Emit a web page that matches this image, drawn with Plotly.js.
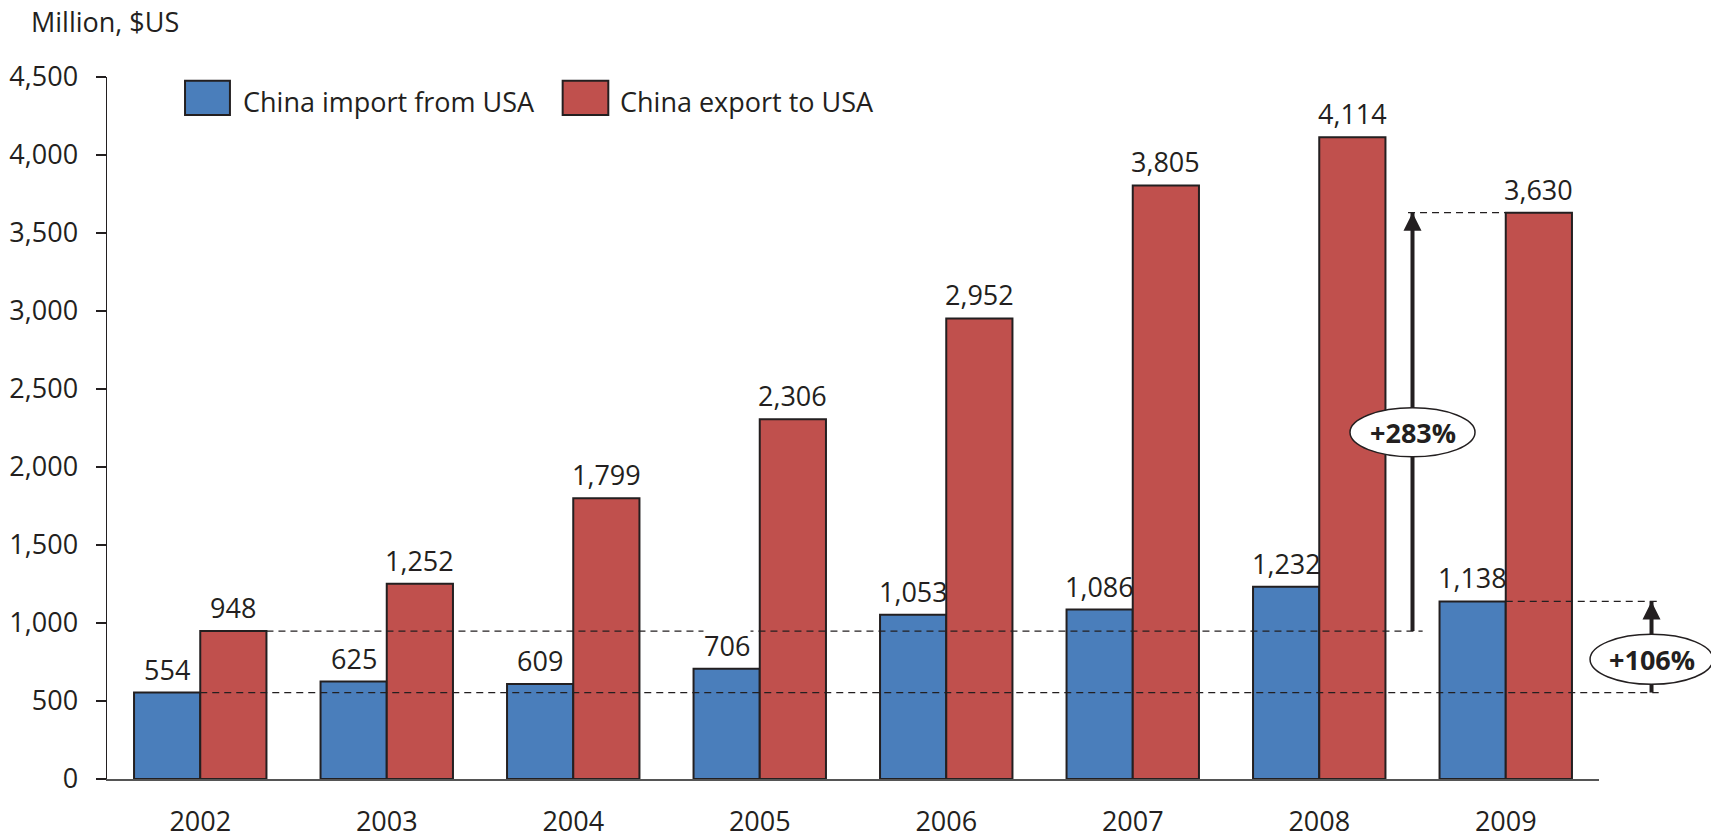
<!DOCTYPE html>
<html><head><meta charset="utf-8">
<script src="https://cdn.plot.ly/plotly-3.0.1.min.js"></script>
<style>html,body{margin:0;padding:0;background:#fff}#chart{width:1711px;height:839px}</style>
</head><body><div id="chart"></div>
<script>
// ---- data ----
const years = ['2002','2003','2004','2005','2006','2007','2008','2009'];
const importFromUSA = [554, 625, 609, 706, 1053, 1086, 1232, 1138];
const exportToUSA = [948, 1252, 1799, 2306, 2952, 3805, 4114, 3630];
const seriesNames = ['China import from USA', 'China export to USA'];
const yTickValues = [0, 500, 1000, 1500, 2000, 2500, 3000, 3500, 4000, 4500];
const growthLabels = ['+283%', '+106%'];
const yAxisLabel = 'Million, $US';

// ---- style ----
const FONT = 'Open Sans, sans-serif';
const INK = '#231f20';
const BLUE = '#4a7ebb';
const RED = '#c0504d';
const FS = 27;
const BARGAP = 0.29;
const half = (1 - BARGAP) / 2;           // one bar width in category units
const nCat = years.length;
const catToPaper = i => (i + 0.5) / nCat; // category index -> paper x

const fmt = v => v.toLocaleString('en-US');

const traces = [
  { type: 'bar', name: seriesNames[0], x: years, y: importFromUSA,
    marker: { color: BLUE, line: { color: INK, width: 2 } }, hoverinfo: 'skip' },
  { type: 'bar', name: seriesNames[1], x: years, y: exportToUSA,
    marker: { color: RED, line: { color: INK, width: 2 } }, hoverinfo: 'skip' }
];

// value labels from the data
const annotations = [];
importFromUSA.forEach((v, i) => annotations.push({
  x: i - half / 2, y: v, xref: 'x', yref: 'y', text: fmt(v), showarrow: false,
  xanchor: 'center', yanchor: 'bottom', yshift: 4, borderpad: 0,
  bgcolor: v < 1000 ? '#ffffff' : 'rgba(0,0,0,0)',
  font: { family: FONT, size: FS, color: INK }
}));
exportToUSA.forEach((v, i) => annotations.push({
  x: i + half / 2, y: v, xref: 'x', yref: 'y', text: fmt(v), showarrow: false,
  xanchor: 'center', yanchor: 'bottom', yshift: 4, borderpad: 0,
  bgcolor: v < 1000 ? '#ffffff' : 'rgba(0,0,0,0)',
  font: { family: FONT, size: FS, color: INK }
}));

// growth arrows: first (2002) to last (2009)
const last = nCat - 1;
const arrowX1 = catToPaper(last - 0.5);   // gap between 2008 and 2009
const arrowX2 = 1.0352;                   // right of the plot
const dash = { color: INK, width: 1.3, dash: '7px,5px' };
const shapes = [
  // dashed guides
  { type: 'line', xref: 'paper', yref: 'y', x0: catToPaper(0), x1: 1.04,
    y0: importFromUSA[0], y1: importFromUSA[0], line: dash, layer: 'above' },
  { type: 'line', xref: 'paper', yref: 'y', x0: catToPaper(0 + half), x1: arrowX1 + 0.0068,
    y0: exportToUSA[0], y1: exportToUSA[0], line: dash, layer: 'above' },
  { type: 'line', xref: 'paper', yref: 'y', x0: arrowX1 - 0.003, x1: catToPaper(last),
    y0: exportToUSA[last], y1: exportToUSA[last], line: dash, layer: 'above' },
  { type: 'line', xref: 'paper', yref: 'y', x0: catToPaper(last), x1: 1.04,
    y0: importFromUSA[last], y1: importFromUSA[last], line: dash, layer: 'above' },
  // arrow shafts
  { type: 'line', xref: 'paper', yref: 'y', x0: arrowX1, x1: arrowX1,
    y0: exportToUSA[0], y1: exportToUSA[last], line: { color: INK, width: 4 }, layer: 'above' },
  { type: 'line', xref: 'paper', yref: 'y', x0: arrowX2, x1: arrowX2,
    y0: importFromUSA[0], y1: importFromUSA[last], line: { color: INK, width: 4 }, layer: 'above' },
  // ellipses
  { type: 'circle', xref: 'paper', yref: 'paper', x0: arrowX1 - 0.0419, x1: arrowX1 + 0.0419,
    y0: 0.459, y1: 0.5288, fillcolor: '#ffffff', line: { color: INK, width: 1.5 }, layer: 'above' },
  { type: 'circle', xref: 'paper', yref: 'paper', x0: arrowX2 - 0.0412, x1: arrowX2 + 0.0412,
    y0: 0.1349, y1: 0.2061, fillcolor: '#ffffff', line: { color: INK, width: 1.5 }, layer: 'above' },
  // legend swatches
  { type: 'rect', xref: 'paper', yref: 'paper', x0: 0.0523, x1: 0.0824, y0: 0.9459, y1: 0.9947,
    fillcolor: BLUE, line: { color: INK, width: 2 }, layer: 'above' },
  { type: 'rect', xref: 'paper', yref: 'paper', x0: 0.3054, x1: 0.336, y0: 0.9459, y1: 0.9947,
    fillcolor: RED, line: { color: INK, width: 2 }, layer: 'above' }
];

// arrow heads
[[arrowX1, exportToUSA[last]], [arrowX2, importFromUSA[last]]].forEach(([x, y]) => annotations.push({
  x: x, y: y, xref: 'paper', yref: 'y', text: ' ', showarrow: true, ax: 0, ay: 18,
  arrowhead: 2, arrowsize: 0.9, arrowwidth: 4, arrowcolor: INK, font: { size: 1 }, borderpad: 0
}));
// growth labels
annotations.push({ x: arrowX1, y: 0.4939, xref: 'paper', yref: 'paper', xanchor: 'center', yanchor: 'middle',
  text: '<b>' + growthLabels[0] + '</b>', showarrow: false, font: { family: FONT, size: FS, color: INK } });
annotations.push({ x: arrowX2, y: 0.1705, xref: 'paper', yref: 'paper', xanchor: 'center', yanchor: 'middle',
  text: '<b>' + growthLabels[1] + '</b>', showarrow: false, font: { family: FONT, size: FS, color: INK } });
// legend texts
annotations.push({ x: 0.0896, y: 0.9655, xref: 'paper', yref: 'paper', xanchor: 'left', yanchor: 'middle',
  text: seriesNames[0], showarrow: false, font: { family: FONT, size: FS, color: INK } });
annotations.push({ x: 0.3427, y: 0.9655, xref: 'paper', yref: 'paper', xanchor: 'left', yanchor: 'middle',
  text: seriesNames[1], showarrow: false, font: { family: FONT, size: FS, color: INK } });
// y axis unit label
annotations.push({ x: -0.0523, y: 1.0795, xref: 'paper', yref: 'paper', xanchor: 'left', yanchor: 'middle',
  text: yAxisLabel, showarrow: false, font: { family: FONT, size: FS, color: INK } });

const layout = {
  width: 1711, height: 839,
  margin: { l: 107, r: 112, t: 77, b: 60, pad: 0 },
  paper_bgcolor: '#fff', plot_bgcolor: '#fff',
  font: { family: FONT, size: FS, color: INK },
  separators: '.,',
  barmode: 'group', bargap: BARGAP, bargroupgap: 0,
  showlegend: false, hovermode: false,
  xaxis: { type: 'category', range: [-0.5, nCat - 0.5], showline: true, linecolor: '#555555', linewidth: 2,
    ticks: '', showgrid: false, zeroline: false, ticklabelstandoff: 18,
    tickfont: { family: FONT, size: FS, color: INK }, fixedrange: true },
  yaxis: { range: [0, 4500], tickvals: yTickValues, ticktext: yTickValues.map(fmt),
    ticks: 'outside', ticklen: 10, tickwidth: 1.5, tickcolor: INK,
    showline: true, linecolor: INK, linewidth: 1.5, showgrid: false, zeroline: false,
    ticklabelstandoff: 12, tickfont: { family: FONT, size: FS, color: INK }, fixedrange: true },
  shapes: shapes,
  annotations: annotations
};

Plotly.newPlot('chart', traces, layout, { displayModeBar: false, staticPlot: true });
</script>
</body></html>
